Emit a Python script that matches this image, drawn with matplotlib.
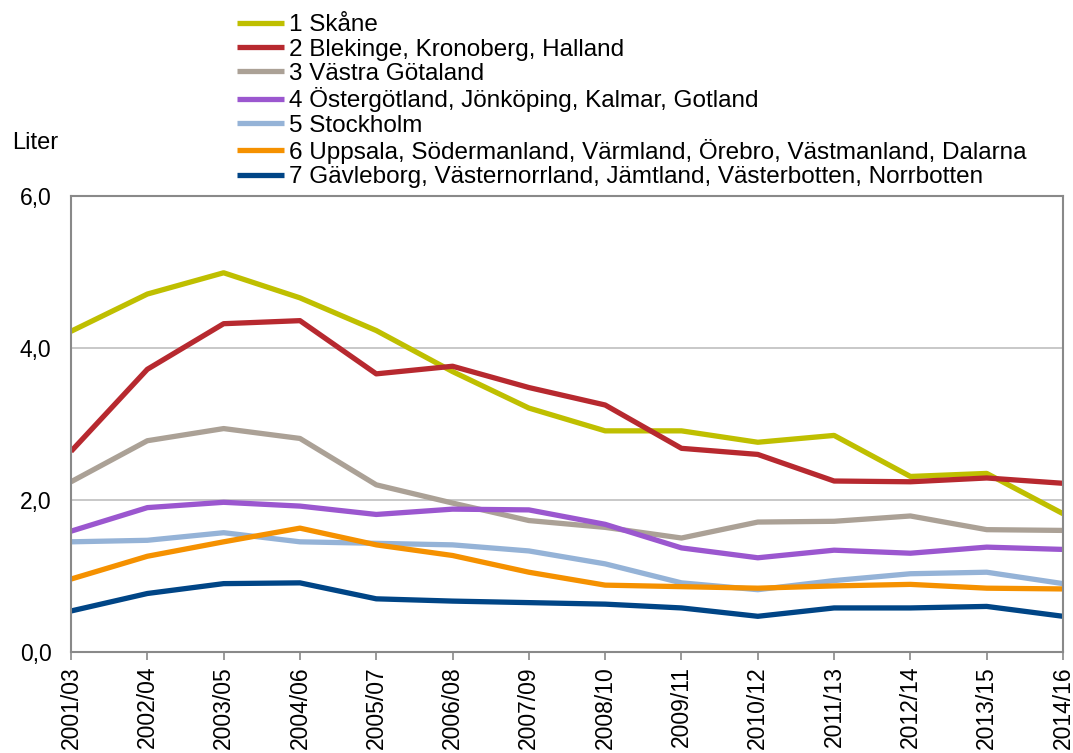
import matplotlib.pyplot as plt
import numpy as np

plt.rcParams['font.family'] = ['Liberation Sans', 'DejaVu Sans']

years = ['2001/03', '2002/04', '2003/05', '2004/06', '2005/07', '2006/08', '2007/09',
         '2008/10', '2009/11', '2010/12', '2011/13', '2012/14', '2013/15', '2014/16']

skane = [4.22, 4.71, 4.99, 4.66, 4.23, 3.69, 3.21, 2.91, 2.91, 2.76, 2.85, 2.31, 2.35, 1.82]
blekinge = [2.64, 3.72, 4.32, 4.36, 3.66, 3.76, 3.48, 3.25, 2.68, 2.60, 2.25, 2.24, 2.29, 2.22]
vastra = [2.24, 2.78, 2.94, 2.81, 2.20, 1.96, 1.73, 1.64, 1.50, 1.71, 1.72, 1.79, 1.61, 1.60]
ostergotland = [1.59, 1.90, 1.97, 1.92, 1.81, 1.88, 1.87, 1.68, 1.37, 1.24, 1.34, 1.30, 1.38, 1.35]
stockholm = [1.45, 1.47, 1.57, 1.45, 1.43, 1.41, 1.33, 1.16, 0.91, 0.82, 0.94, 1.03, 1.05, 0.90]
uppsala = [0.96, 1.26, 1.45, 1.63, 1.41, 1.27, 1.05, 0.88, 0.86, 0.84, 0.87, 0.89, 0.84, 0.83]
gavleborg = [0.54, 0.77, 0.90, 0.91, 0.70, 0.67, 0.65, 0.63, 0.58, 0.47, 0.58, 0.58, 0.60, 0.47]

series = [
    ('1 Skåne', skane, '#BFBF00'),
    ('2 Blekinge, Kronoberg, Halland', blekinge, '#B7292F'),
    ('3 Västra Götaland', vastra, '#ABA196'),
    ('4 Östergötland, Jönköping, Kalmar, Gotland', ostergotland, '#9B57CF'),
    ('5 Stockholm', stockholm, '#95B3D7'),
    ('6 Uppsala, Södermanland, Värmland, Örebro, Västmanland, Dalarna', uppsala, '#F59100'),
    ('7 Gävleborg, Västernorrland, Jämtland, Västerbotten, Norrbotten', gavleborg, '#004586'),
]

fig = plt.figure(figsize=(10.73, 7.53), dpi=100)
ax = fig.add_axes([0.0662, 0.1341, 0.9245, 0.6056])

x = np.arange(len(years))
for label, vals, col in series:
    ax.plot(x, vals, color=col, lw=3.8, label=label, solid_capstyle='butt')

ax.set_xlim(0, len(years) - 1)
ax.set_ylim(0, 6)
ax.set_yticks([0, 2, 4, 6])
ax.set_yticklabels(['0,0', '2,0', '4,0', '6,0'], fontsize=16.5)
ax.set_xticks(x)
ax.set_xticklabels(years, rotation=90, fontsize=16.5)
ax.tick_params(axis='y', length=0, pad=14)
ax.tick_params(axis='x', length=6, width=1.2, color='#898989', direction='out', pad=4)
ax.grid(axis='y', color='#BFBFBF', lw=1.2)
ax.set_axisbelow(True)
for s in ax.spines.values():
    s.set_color('#898989')
    s.set_linewidth(1.5)

fig.text(0.011, 0.81, 'Liter', fontsize=17, va='center', ha='left')

fig.legend(loc='upper left', bbox_to_anchor=(0.2209, 0.981), frameon=False,
           fontsize=17.5, handlelength=1.95, handletextpad=0.2, labelspacing=0.095,
           borderpad=0, borderaxespad=0)

fig.savefig('out.png', dpi=100)
